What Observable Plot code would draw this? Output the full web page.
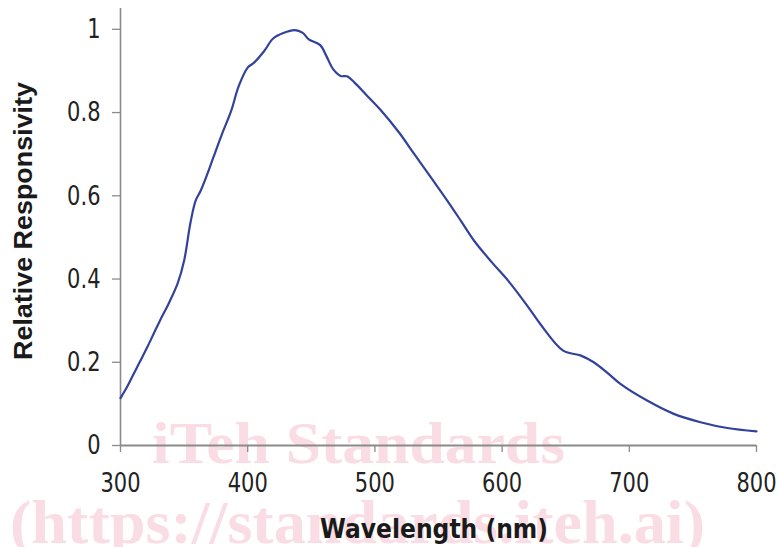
<!DOCTYPE html>
<html>
<head>
<meta charset="utf-8">
<script src="https://cdn.jsdelivr.net/npm/d3@7"></script>
<script src="https://cdn.jsdelivr.net/npm/@observablehq/plot@0.6"></script>
<style>
  html, body { margin: 0; padding: 0; background: #fff; }
  #wrap { position: relative; width: 778px; height: 547px; overflow: hidden; }
  #wm, #labels { position: absolute; left: 0; top: 0; }
  #chart { position: absolute; left: 0; top: 0; }
</style>
</head>
<body>
<div id="wrap">
  <svg id="wm" width="778" height="547">
    <text x="152" y="463" textLength="413" lengthAdjust="spacingAndGlyphs" font-family="Liberation Serif" font-weight="bold" font-size="60" fill="#fadce4">iTeh Standards</text>
    <text x="10" y="543" textLength="695" lengthAdjust="spacingAndGlyphs" font-family="Liberation Serif" font-weight="bold" font-size="62" fill="#fadce4">(https://standards.iteh.ai)</text>
  </svg>
  <div id="chart"></div>
  <svg id="labels" width="778" height="547" style="pointer-events:none">
    <text id="xlab" x="434" y="538" text-anchor="middle" textLength="228" lengthAdjust="spacingAndGlyphs" font-family="DejaVu Sans" font-weight="bold" font-size="21" fill="#1a1a1a" transform="translate(0,538) scale(1,1.25) translate(0,-538)">Wavelength (nm)</text>
    <text id="ylab" text-anchor="middle" textLength="278" lengthAdjust="spacingAndGlyphs" font-family="Liberation Sans" font-weight="bold" font-size="26" fill="#1a1a1a" transform="translate(32,221) rotate(-90)">Relative Responsivity</text>
  </svg>
</div>
<script>
const wavelength = [300,305,310,315,321,326,331,338,345,350,355,359,363,368,373,380,387,393,400,405,413,420,428,437,443,448,457,462,467,473,478,484,494,504,519,531,545,557,568,578,592,605,620,630,648,662,672,683,693,714,735,756,777,800];
const responsivity = [0.114,0.140,0.170,0.200,0.236,0.268,0.300,0.342,0.390,0.444,0.535,0.588,0.612,0.650,0.692,0.750,0.804,0.864,0.908,0.920,0.948,0.978,0.991,0.998,0.992,0.976,0.962,0.935,0.905,0.888,0.887,0.872,0.840,0.808,0.752,0.700,0.640,0.588,0.538,0.492,0.440,0.395,0.335,0.292,0.228,0.216,0.200,0.174,0.148,0.108,0.076,0.056,0.042,0.034];
const xTicks = [300,400,500,600,700,800];
const yTicks = [0,0.2,0.4,0.6,0.8,1];

const data = wavelength.map((w, i) => ({w, r: responsivity[i]}));

const chart = Plot.plot({
  width: 778,
  height: 547,
  marginLeft: 120,
  marginRight: 22,
  marginTop: 8,
  marginBottom: 102,
  style: {background: "transparent", color: "#222", fontFamily: "DejaVu Sans"},
  x: {domain: [300, 800]},
  y: {domain: [0, 1.05]},
  marks: [
    Plot.axisY({ticks: yTicks, tickSize: 8, tickPadding: 12, tickFormat: d => String(d), fontSize: 21, stroke: "#8a8a8a", strokeWidth: 1.3, label: null}),
    Plot.axisX({ticks: xTicks, tickSize: 7, tickPadding: 20, tickFormat: d => String(d), fontSize: 21, stroke: "#8a8a8a", strokeWidth: 1.3, label: null}),
    Plot.ruleX([300], {stroke: "#8a8a8a", strokeWidth: 1.6}),
    Plot.ruleY([0], {stroke: "#8a8a8a", strokeWidth: 1.8}),
    Plot.line(data, {x: "w", y: "r", stroke: "#32429c", strokeWidth: 2.2, curve: "catmull-rom"})
  ]
});
// stretch tick labels vertically to match the reference's taller glyphs
chart.querySelectorAll('g[aria-label="y-axis tick label"] text, g[aria-label="x-axis tick label"] text').forEach(t => {
  const tr = t.getAttribute("transform") || "";
  t.setAttribute("transform", tr + " scale(1,1.3)");
});
document.getElementById("chart").appendChild(chart);
</script>
</body>
</html>
